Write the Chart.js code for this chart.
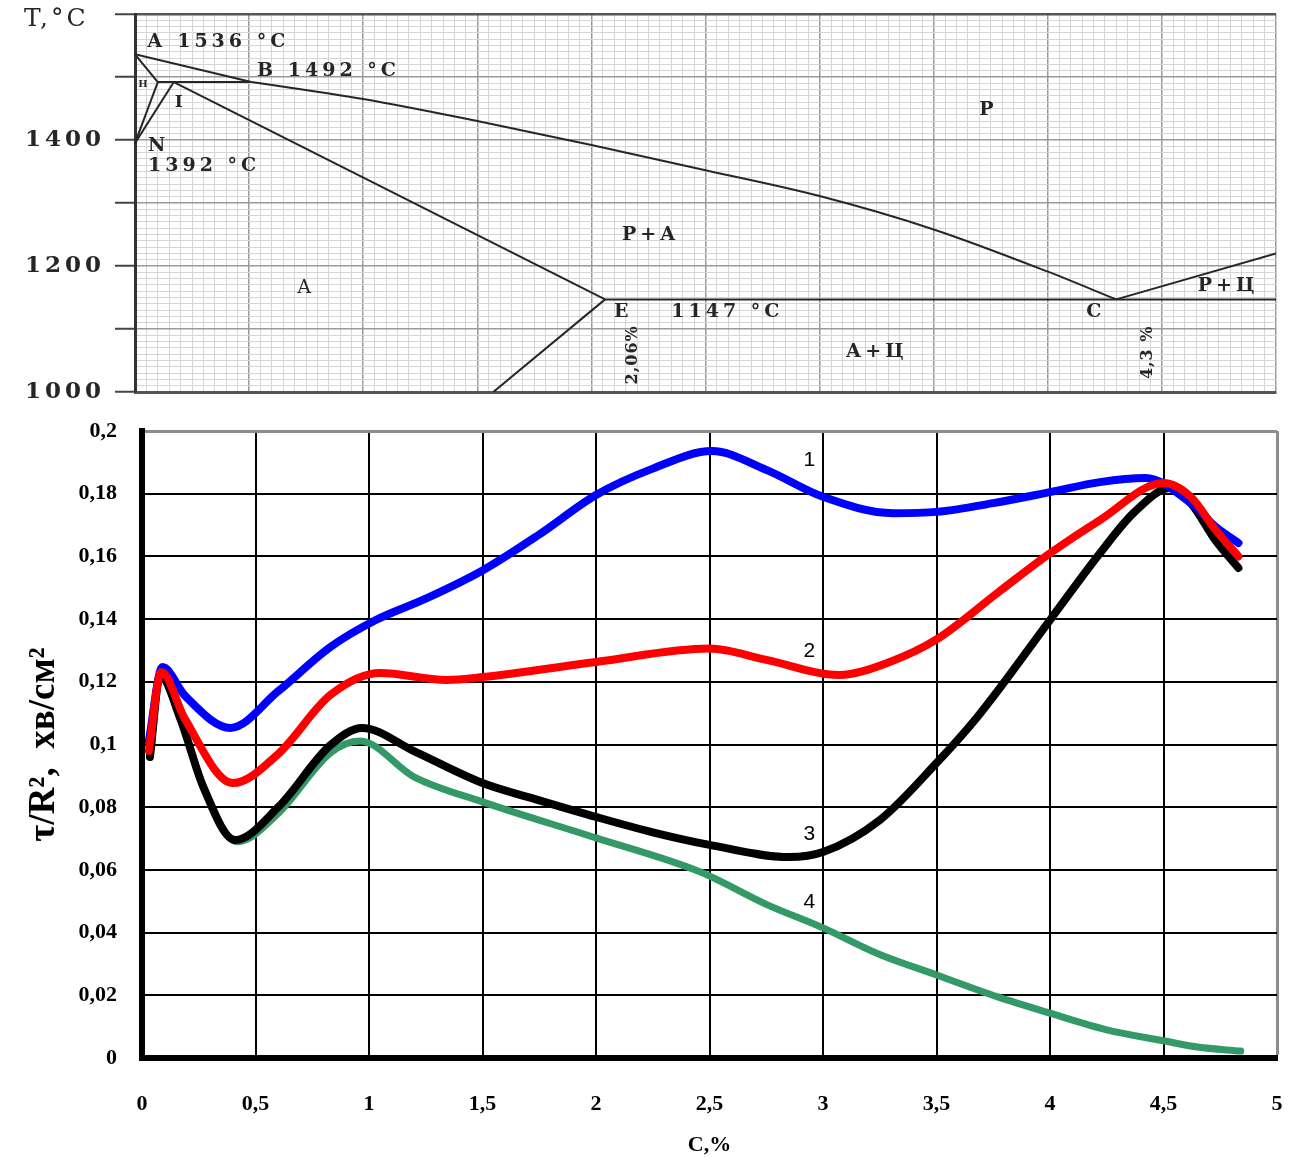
<!DOCTYPE html>
<html lang="uk">
<head>
<meta charset="UTF-8">
<title>Діаграма Fe–C і τ/R²</title>
<script src="https://cdn.jsdelivr.net/npm/chart.js"></script>
<style>
  body { margin: 0; background: #fff; }
  #wrap { position: relative; width: 1293px; height: 1160px; }
  #phase { position: absolute; left: 0; top: 0; }
  #tau { position: absolute; left: 0; top: 410px; }
</style>
</head>
<body>
<div id="wrap">
  <canvas id="phase" width="1293" height="410"></canvas>
  <canvas id="tau" width="1293" height="750"></canvas>
</div>
<script>
// ---------- phase diagram (top): carbon %, temperature °C ----------
const lineAB = { c: [0, 0.51], t: [1536, 1492] };
const lineBC = { c: [0.51, 1.0, 1.5, 2.0, 2.5, 3.0, 3.5, 4.0, 4.3], t: [1492, 1465, 1430, 1392, 1352, 1311, 1258, 1191, 1147] };
const lineCD = { c: [4.3, 5.0], t: [1147, 1220] };
const lineAH = { c: [0, 0.1], t: [1536, 1492] };
const lineHN = { c: [0, 0.1], t: [1395, 1492] };
const lineJN = { c: [0, 0.17], t: [1395, 1492] };
const lineHB = { c: [0.1, 0.51], t: [1492, 1492] };
const lineJE = { c: [0.17, 2.06], t: [1492, 1147] };
const lineSE = { c: [1.57, 2.06], t: [1000, 1147] };
const lineEF = { c: [2.06, 5.0], t: [1147, 1147] };

const phaseLabels = [
  { text: 'А 1536 °С', c: 0.053, t: 1556, align: 'left' },
  { text: 'В 1492 °С', c: 0.535, t: 1510, align: 'left' },
  { text: 'Н', c: 0.035, t: 1489, size: 10 },
  { text: 'І', c: 0.2, t: 1460, size: 17 },
  { text: 'N', c: 0.057, t: 1390, align: 'left' },
  { text: '1392 °С', c: 0.057, t: 1359, align: 'left' },
  { text: 'Р', c: 3.74, t: 1448 },
  { text: 'Р+А', c: 2.26, t: 1249 },
  { text: 'А', c: 0.75, t: 1165, weight: 'normal' },
  { text: 'Е', c: 2.14, t: 1127 },
  { text: '1147 °С', c: 2.35, t: 1127, align: 'left' },
  { text: 'С', c: 4.21, t: 1127 },
  { text: 'Р+Ц', c: 4.79, t: 1168 },
  { text: 'А+Ц', c: 3.25, t: 1063 },
  { text: '2,06%', c: 2.18, t: 1059, rot: true, size: 16 },
  { text: '4,3 %', c: 4.44, t: 1063, rot: true, size: 16 }
];

// ---------- τ/R² curves (bottom) ----------
const c1 = [0.03, 0.09, 0.19, 0.39, 0.6, 0.83, 1.03, 1.25, 1.5, 1.75, 2.0, 2.25, 2.51, 2.75, 3.0, 3.31, 3.5, 3.75, 4.0, 4.22, 4.42, 4.62, 4.73, 4.83];
const tau1 = [0.101, 0.1247, 0.1155, 0.1053, 0.117, 0.1311, 0.1397, 0.1465, 0.1555, 0.167, 0.1796, 0.188, 0.1936, 0.1876, 0.179, 0.1738, 0.1742, 0.177, 0.1805, 0.1837, 0.185, 0.177, 0.1694, 0.1643];

const c2 = [0.03, 0.085, 0.19, 0.4, 0.6, 0.83, 1.05, 1.34, 1.5, 2.0, 2.5, 2.75, 3.07, 3.3, 3.5, 3.78, 4.0, 4.22, 4.5, 4.62, 4.73, 4.83];
const tau2 = [0.098, 0.1231, 0.108, 0.0877, 0.097, 0.1158, 0.1228, 0.1206, 0.1215, 0.1263, 0.1306, 0.127, 0.1222, 0.1265, 0.1335, 0.149, 0.161, 0.1716, 0.1834, 0.179, 0.1684, 0.16];

const c3 = [0.035, 0.08, 0.17, 0.27, 0.41, 0.6, 0.83, 0.97, 1.2, 1.5, 1.75, 2.0, 2.25, 2.5, 2.85, 3.0, 3.25, 3.5, 3.68, 4.0, 4.22, 4.37, 4.53, 4.62, 4.73, 4.83];
const tau3 = [0.096, 0.122, 0.108, 0.0865, 0.0695, 0.08, 0.0998, 0.1053, 0.0978, 0.0877, 0.0822, 0.0769, 0.072, 0.068, 0.0641, 0.0657, 0.0759, 0.0941, 0.1088, 0.1397, 0.161, 0.174, 0.1818, 0.177, 0.165, 0.1563];

const c4 = [0.035, 0.08, 0.17, 0.27, 0.42, 0.6, 0.83, 0.96, 1.2, 1.5, 2.0, 2.46, 2.75, 3.0, 3.25, 3.5, 3.77, 4.0, 4.25, 4.5, 4.65, 4.84];
const tau4 = [0.096, 0.122, 0.108, 0.0865, 0.069, 0.078, 0.0973, 0.1011, 0.0896, 0.0817, 0.0702, 0.0593, 0.049, 0.0415, 0.033, 0.0265, 0.0195, 0.0143, 0.009, 0.0055, 0.0035, 0.0022];

const curveLabels = [
  { text: '1', c: 2.94, v: 0.1907 },
  { text: '2', c: 2.94, v: 0.1298 },
  { text: '3', c: 2.94, v: 0.0714 },
  { text: '4', c: 2.94, v: 0.0498 }
];

const toPoints = (xs, ys) => xs.map((x, i) => ({ x: x, y: ys[i] }));
const comma = v => String(Math.round(v * 100) / 100).replace('.', ',');
// drop the label overhang Chart.js adds, so layout.padding alone places the plot area
const noOverhang = s => { s.paddingLeft = 0; s.paddingRight = 0; s.paddingTop = 0; s.paddingBottom = 0; };

// ---------- top chart ----------
const segments = [lineAB, lineBC, lineCD, lineAH, lineHN, lineJN, lineHB, lineJE, lineSE, lineEF];

const phaseText = {
  id: 'phaseText',
  beforeDraw(chart) { chart.ctx.letterSpacing = '4px'; },
  afterDraw(chart) {
    const { ctx, scales: { x, y } } = chart;
    ctx.save();
    ctx.fillStyle = '#262626';
    ctx.textBaseline = 'middle';
    phaseLabels.forEach(l => {
      ctx.font = (l.weight || 'bold') + ' ' + (l.size || 19) + 'px "DejaVu Serif"';
      ctx.letterSpacing = l.size && l.size < 12 ? '0px' : '4px';
      ctx.textAlign = l.align || 'center';
      const px = x.getPixelForValue(l.c), py = y.getPixelForValue(l.t);
      if (l.rot) {
        ctx.save();
        ctx.translate(px, py);
        ctx.rotate(-Math.PI / 2);
        ctx.letterSpacing = '1px';
        ctx.fillText(l.text, 0, 0);
        ctx.restore();
      } else {
        ctx.fillText(l.text, px, py);
      }
    });
    ctx.font = '25px "DejaVu Serif"';
    ctx.letterSpacing = '3px';
    ctx.textAlign = 'left';
    ctx.fillText('T,°C', 24, chart.chartArea.top + 5);
    ctx.restore();
  }
};

new Chart(document.getElementById('phase'), {
  type: 'scatter',
  data: {
    datasets: segments.map(s => ({
      data: toPoints(s.c, s.t),
      showLine: true,
      borderColor: '#262626',
      borderWidth: 2,
      pointRadius: 0,
      cubicInterpolationMode: s.c.length > 2 ? 'monotone' : 'default',
      tension: 0
    }))
  },
  options: {
    responsive: false,
    devicePixelRatio: 1,
    animation: false,
    layout: { padding: { top: 14, right: 17, left: 0, bottom: 0 } },
    plugins: { legend: { display: false }, tooltip: { enabled: false } },
    scales: {
      x: {
        type: 'linear', min: 0, max: 5,
        ticks: { stepSize: 0.05, display: false, autoSkip: false },
        grid: {
          drawTicks: false,
          color: ctx => Math.round(ctx.tick.value * 100) % 50 === 0 ? '#999' : '#d6d6d6',
          lineWidth: ctx => Math.round(ctx.tick.value * 100) % 50 === 0 ? 1.5 : 1
        },
        border: { color: '#555', width: 3 },
        afterFit: s => { s.height = 18; noOverhang(s); }
      },
      y: {
        min: 1000, max: 1600,
        ticks: {
          stepSize: 10, autoSkip: false, padding: 10, color: '#262626',
          font: { family: 'DejaVu Serif', weight: 'bold', size: 23 },
          callback: v => v % 200 === 0 && v < 1600 ? String(v) : ''
        },
        grid: {
          tickLength: 20,
          tickWidth: 2,
          tickColor: ctx => ctx.tick.value % 100 === 0 ? '#444' : 'rgba(0,0,0,0)',
          color: ctx => ctx.tick.value === 1600 ? '#555' : (ctx.tick.value % 100 === 0 ? '#999' : '#d6d6d6'),
          lineWidth: ctx => ctx.tick.value === 1600 ? 2.5 : (ctx.tick.value % 100 === 0 ? 1.5 : 1)
        },
        border: { color: '#333', width: 3 },
        afterFit: s => { s.width = 135; noOverhang(s); }
      }
    }
  },
  plugins: [phaseText]
});

// ---------- bottom chart ----------
const curveText = {
  id: 'curveText',
  afterDatasetsDraw(chart) {
    const { ctx, scales: { x, y } } = chart;
    ctx.save();
    ctx.fillStyle = '#000';
    ctx.font = '21px "Liberation Sans"';
    ctx.textAlign = 'center';
    ctx.textBaseline = 'middle';
    curveLabels.forEach(l => ctx.fillText(l.text, x.getPixelForValue(l.c), y.getPixelForValue(l.v)));
    ctx.restore();
  }
};

const curve = (xs, ys, color, order, width) => ({
  data: toPoints(xs, ys),
  showLine: true,
  borderColor: color,
  borderWidth: width,
  borderCapStyle: 'round',
  borderJoinStyle: 'round',
  pointRadius: 0,
  cubicInterpolationMode: 'monotone',
  order: order
});

const boldSerif = size => ({ family: 'Liberation Serif', weight: 'bold', size: size });

new Chart(document.getElementById('tau'), {
  type: 'scatter',
  data: {
    datasets: [
      curve(c1, tau1, '#0000ff', 2, 8),
      curve(c2, tau2, '#ff0000', 1, 8),
      curve(c3, tau3, '#000000', 3, 8),
      curve(c4, tau4, '#339966', 4, 7)
    ]
  },
  options: {
    responsive: false,
    devicePixelRatio: 1,
    animation: false,
    layout: { padding: { top: 21, right: 16, left: 0, bottom: 0 } },
    plugins: { legend: { display: false }, tooltip: { enabled: false } },
    scales: {
      x: {
        type: 'linear', min: 0, max: 5,
        ticks: { stepSize: 0.5, padding: 33, color: '#000', font: boldSerif(22), callback: comma },
        grid: {
          drawTicks: false,
          color: ctx => ctx.tick.value >= 5 ? '#8c8c8c' : '#000',
          lineWidth: ctx => ctx.tick.value >= 5 ? 3 : 2
        },
        border: { color: '#000', width: 6 },
        title: { display: true, text: 'C,%', color: '#000', font: boldSerif(22), padding: { top: 0, bottom: 1 } },
        afterFit: s => { s.height = 102; noOverhang(s); }
      },
      y: {
        min: 0, max: 0.2,
        ticks: { stepSize: 0.02, padding: 25, color: '#000', font: boldSerif(22), callback: comma },
        grid: {
          drawTicks: false,
          color: ctx => ctx.tick.value > 0.199 ? '#8c8c8c' : '#000',
          lineWidth: ctx => ctx.tick.value > 0.199 ? 3 : 2
        },
        border: { color: '#000', width: 6 },
        title: { display: true, text: 'τ/R²,  хв/см²', color: '#000', font: boldSerif(37), padding: { top: 22, bottom: 0 } },
        afterFit: s => { s.width = 142; noOverhang(s); }
      }
    }
  },
  plugins: [curveText]
});
</script>
</body>
</html>
